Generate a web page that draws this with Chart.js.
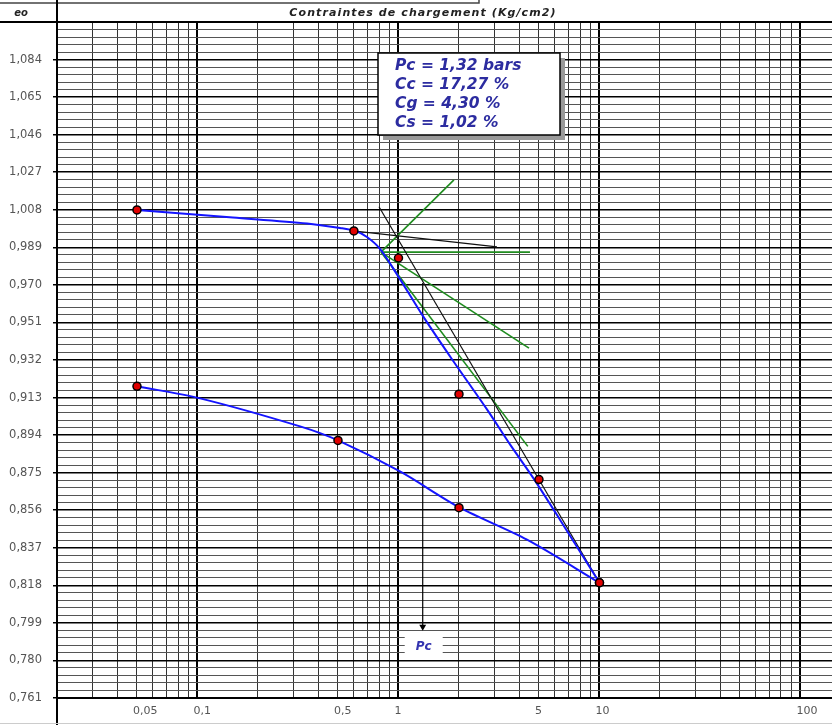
<!DOCTYPE html>
<html>
<head>
<meta charset="utf-8">
<script src="https://cdn.jsdelivr.net/npm/chart.js@4/dist/chart.umd.min.js"></script>
<style>
  body { margin: 0; background: #fff; }
  canvas { display: block; }
</style>
</head>
<body>
<canvas id="myChart" width="832" height="725"></canvas>
<script>
// oedometer test - void ratio vs log pressure (Kg/cm2)
const loadPressure = [0.05, 0.6, 1, 2, 5, 10];
const loadVoid = [1.0079, 0.9973, 0.9836, 0.9147, 0.8715, 0.8193];
const unloadPressure = [10, 2, 0.5, 0.05];
const unloadVoid = [0.8193, 0.8573, 0.8913, 0.9187];

// blue fitted curves
const loadCurveP = [0.05, 0.15, 0.351, 0.512, 0.608, 0.697, 0.809, 1.017, 1.324, 1.846, 2.756, 3.587, 4.67, 6.36, 10];
const loadCurveE = [1.0079, 1.0041, 1.0011, 0.9988, 0.9973, 0.9942, 0.9882, 0.9729, 0.9542, 0.9324, 0.9070, 0.8893, 0.8725, 0.8512, 0.8193];
const unloadCurveP = [0.05, 0.103, 0.324, 0.5, 1.017, 2.02, 4.36, 10];
const unloadCurveE = [0.9187, 0.9126, 0.8984, 0.8913, 0.8756, 0.8573, 0.8411, 0.8193];

// Casagrande construction
const tangentP = [0.594, 3.09];
const tangentE = [0.9973, 0.9892];
const virginP = [0.80, 10];
const virginE = [1.0095, 0.8193];
const greenStartP = 0.818;
const greenStartE = 0.9866;
const greenEndP = [1.888, 4.51, 4.46, 4.40];
const greenEndE = [1.0231, 0.9866, 0.938, 0.8883];
const pcValue = 1.32;
const pcArrowE = [0.9709, 0.797];

const yMin = 0.761;
const yLabelStep = 0.019;
const yDivisions = 5;
const yLabelCount = 18;
const xMin = 0.02;
const xMax = 143.5;
const xTickLabels = [0.05, 0.1, 0.5, 1, 5, 10, 100];

const boxLines = ['Pc = 1,32 bars', 'Cc = 17,27 %', 'Cg = 4,30 %', 'Cs = 1,02 %'];

const zip = (xs, ys) => xs.map((x, i) => ({ x: x, y: ys[i] }));

const isDecade = v => Math.abs(Math.log10(v) - Math.round(Math.log10(v))) < 1e-6;

const frame = {
  id: 'frame',
  beforeDraw(chart) {
    const c = chart.ctx;
    c.save();
    c.fillStyle = '#fff';
    c.fillRect(0, 0, chart.width, chart.height);
    c.restore();
  },
  afterDraw(chart) {
    const c = chart.ctx;
    const a = chart.chartArea;
    c.save();
    c.strokeStyle = '#444';
    c.lineWidth = 1.5;
    c.beginPath();
    c.moveTo(0, 3); c.lineTo(479, 3); c.lineTo(479, 0);
    c.stroke();
    c.strokeStyle = '#000';
    c.lineWidth = 2;
    c.beginPath();
    c.moveTo(0, a.top); c.lineTo(chart.width, a.top);
    c.moveTo(a.left, 0); c.lineTo(a.left, chart.height);
    c.stroke();
    c.strokeStyle = '#ccc';
    c.lineWidth = 1;
    c.beginPath();
    c.moveTo(0, 723.5); c.lineTo(chart.width, 723.5);
    c.stroke();

    c.fillStyle = '#222';
    c.textBaseline = 'middle';
    c.textAlign = 'center';
    c.font = 'italic bold 10px "DejaVu Sans"';
    c.fillText('eo', 21, 13);
    c.font = 'italic bold 11px "DejaVu Sans"';
    c.letterSpacing = '1.1px';
    c.fillText('Contraintes de chargement (Kg/cm2)', 423, 13);
    c.letterSpacing = '0px';

    // result box
    const bx = a.left + 321, by = a.top + 31, bw = 182, bh = 82;
    c.fillStyle = '#999';
    c.fillRect(bx + 5, by + 5, bw, bh);
    c.fillStyle = '#fff';
    c.fillRect(bx, by, bw, bh);
    c.strokeStyle = '#000';
    c.lineWidth = 1.5;
    c.strokeRect(bx, by, bw, bh);
    c.fillStyle = '#2c2ca0';
    c.textAlign = 'left';
    c.font = 'italic bold 15.5px "DejaVu Sans"';
    boxLines.forEach((t, i) => c.fillText(t, bx + 17, by + 13 + i * 19));

    // Pc label under the arrow
    const px = chart.scales.x.getPixelForValue(pcValue);
    const py = chart.scales.y.getPixelForValue(0.7873);
    c.fillStyle = '#fff';
    c.fillRect(px - 18, py - 11, 38, 22);
    c.fillStyle = '#3434b0';
    c.textAlign = 'center';
    c.font = 'italic bold 12px "DejaVu Sans"';
    c.fillText('Pc', px + 1, py + 1);
    c.restore();
  }
};

const lineDs = (data, color, width, order) => ({
  type: 'line',
  data: data,
  borderColor: color,
  borderWidth: width,
  pointRadius: 0,
  fill: false,
  order: order
});

const greenSets = greenEndP.map((p, i) =>
  lineDs([{ x: greenStartP, y: greenStartE }, { x: p, y: greenEndE[i] }], '#1f8c1f', 1.6, 3));

const ctx = document.getElementById('myChart').getContext('2d');
const chart = new Chart(ctx, {
  type: 'scatter',
  data: {
    datasets: [
      {
        data: zip(loadPressure, loadVoid).concat(zip(unloadPressure, unloadVoid)),
        backgroundColor: '#e00000',
        borderColor: '#000',
        borderWidth: 1.5,
        pointRadius: 4,
        order: 0
      },
      Object.assign(lineDs(zip(loadCurveP, loadCurveE), '#1414ff', 2, 1), { tension: 0.3 }),
      Object.assign(lineDs(zip(unloadCurveP, unloadCurveE), '#1414ff', 2, 1), { tension: 0.3 }),
      lineDs(zip(tangentP, tangentE), '#111', 1.2, 2),
      lineDs(zip(virginP, virginE), '#111', 1.2, 2),
      ...greenSets,
      {
        type: 'line',
        data: [{ x: pcValue, y: pcArrowE[0] }, { x: pcValue, y: pcArrowE[1] }],
        borderColor: '#000',
        borderWidth: 1.2,
        pointRadius: [0, 4],
        pointStyle: 'triangle',
        rotation: 180,
        backgroundColor: '#000',
        pointBorderWidth: 0,
        order: 2
      }
    ]
  },
  options: {
    responsive: false,
    devicePixelRatio: 1,
    animation: false,
    layout: { autoPadding: false, padding: { top: 22, left: 0, right: 0, bottom: 0 } },
    plugins: { legend: { display: false }, tooltip: { enabled: false } },
    scales: {
      x: {
        type: 'logarithmic',
        min: xMin,
        max: xMax,
        afterBuildTicks: scale => {
          const vals = [];
          [0.01, 0.1, 1, 10, 100].forEach(d => {
            for (let m = 1; m <= 9; m++) {
              const v = +(d * m).toPrecision(3);
              if (v >= xMin && v <= xMax) vals.push(v);
            }
          });
          scale.ticks = vals.map(v => ({ value: v }));
        },
        afterFit: scale => {
          scale.height = 27;
          scale.paddingLeft = 0;
          scale.paddingRight = 0;
        },
        border: { display: true, color: '#000', width: 2 },
        grid: {
          drawTicks: false,
          color: c => isDecade(c.tick.value) ? '#000' : '#333',
          lineWidth: c => isDecade(c.tick.value) ? 2 : 1
        },
        ticks: {
          autoSkip: false,
          maxRotation: 0,
          padding: 7,
          align: 'start',
          labelOffset: -4,
          color: '#555',
          font: { family: 'DejaVu Sans', size: 11 },
          callback: v => xTickLabels.some(t => Math.abs(t - v) < 1e-9) ? String(v).replace('.', ',') : ''
        }
      },
      y: {
        type: 'linear',
        min: yMin,
        max: yMin + yLabelStep * yLabelCount,
        afterBuildTicks: scale => {
          const ticks = [];
          const n = yLabelCount * yDivisions;
          for (let i = 0; i <= n; i++) {
            ticks.push({ value: (yMin * 1000 + i * yLabelStep * 1000 / yDivisions) / 1000 });
          }
          scale.ticks = ticks;
        },
        afterFit: scale => { scale.width = 57; },
        border: { display: true, color: '#000', width: 2 },
        grid: {
          tickLength: 4,
          color: c => c.index % yDivisions === 0 ? '#000' : '#555',
          tickColor: c => c.index % yDivisions === 0 ? '#000' : 'rgba(0,0,0,0)',
          lineWidth: c => c.index % yDivisions === 0 ? 1.5 : 1
        },
        ticks: {
          autoSkip: false,
          padding: 11,
          color: '#555',
          font: { family: 'DejaVu Sans', size: 11.5 },
          callback: (v, i) => (i % yDivisions === 0 && i < yLabelCount * yDivisions) ? v.toFixed(3).replace('.', ',') : ''
        }
      }
    }
  },
  plugins: [frame]
});
</script>
</body>
</html>
